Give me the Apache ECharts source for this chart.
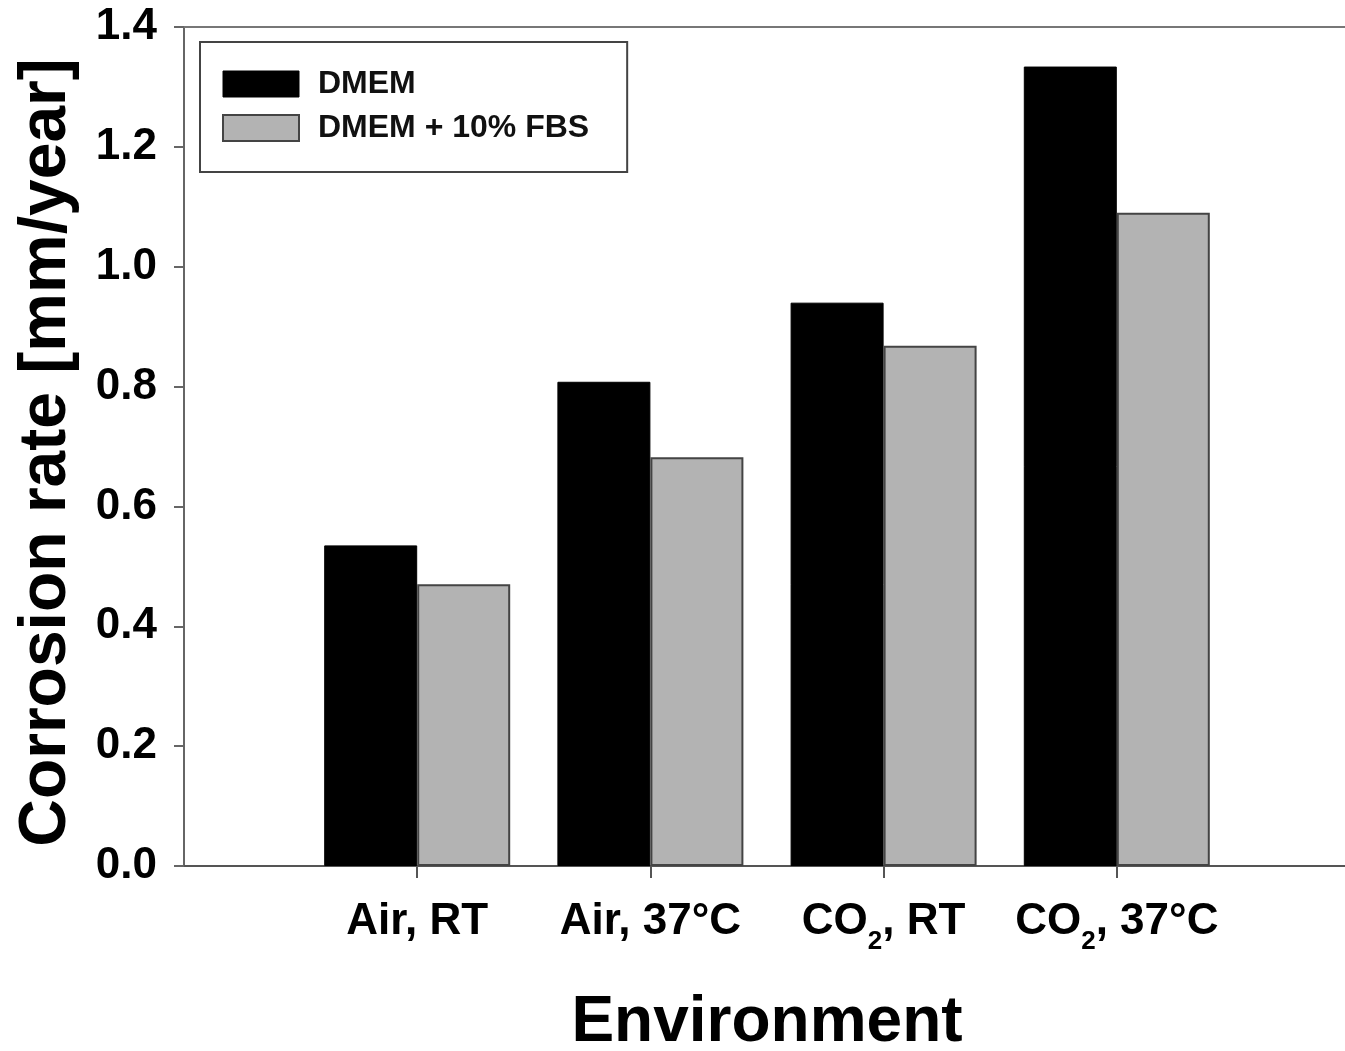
<!DOCTYPE html>
<html>
<head>
<meta charset="utf-8">
<script src="https://cdn.jsdelivr.net/npm/echarts@6/dist/echarts.min.js"></script>
<style>
html,body{margin:0;padding:0;background:#fff;overflow:hidden;}
#chart{width:1345px;height:1051px;}
</style>
</head>
<body>
<div id="chart"></div>
<script>
const categories = ['Air, RT', 'Air, 37°C', 'CO2, RT', 'CO2, 37°C'];
const dmem = [0.535, 0.808, 0.940, 1.334];
const dmemFbs = [0.470, 0.682, 0.868, 1.090];
const seriesNames = ['DMEM', 'DMEM + 10% FBS'];
const yTicks = { min: 0, max: 1.4, interval: 0.2 };

const axisData = [''].concat(categories, ['']);
const pad = arr => ['-'].concat(arr, ['-']);
const FONT = '"Liberation Sans", Arial, sans-serif';

const chart = echarts.init(document.getElementById('chart'), null, { renderer: 'canvas' });
chart.setOption({
  backgroundColor: '#fff',
  animation: false,
  textStyle: { fontFamily: FONT },
  grid: { left: 184, top: 27, bottom: 185, width: 1166, containLabel: false, outerBoundsMode: 'none' },
  legend: {
    orient: 'vertical',
    left: 200, top: 42,
    padding: [26, 38, 28, 22],
    itemWidth: 76, itemHeight: 26, itemGap: 12,
    borderColor: '#444', borderWidth: 2,
    textStyle: { fontFamily: FONT, fontWeight: 'bold', fontSize: 32, color: '#111', padding: [0, 0, 0, 14] },
    data: [
      { name: seriesNames[0], icon: 'rect', itemStyle: { color: '#000', borderColor: '#000', borderWidth: 1 } },
      { name: seriesNames[1], icon: 'rect', itemStyle: { color: '#b3b3b3', borderColor: '#444', borderWidth: 2 } }
    ]
  },
  xAxis: [{
    type: 'category',
    data: axisData,
    boundaryGap: false,
    name: 'Environment',
    nameLocation: 'middle',
    nameGap: 125,
    nameTextStyle: { fontFamily: FONT, fontWeight: 'bold', fontSize: 64, color: '#000' },
    axisLine: { show: true, lineStyle: { color: '#555', width: 2 } },
    axisTick: { show: true, length: 12, interval: (i, v) => v !== '', lineStyle: { color: '#555', width: 2 } },
    axisLabel: {
      interval: (i, v) => v !== '',
      margin: 26,
      formatter: v => v ? '{a|' + v.replace('CO2', 'CO}{s|2}{a|') + '}' : '',
      rich: {
        a: { fontFamily: FONT, fontWeight: 'bold', fontSize: 44, lineHeight: 60, color: '#000' },
        s: { fontFamily: FONT, fontWeight: 'bold', fontSize: 26, lineHeight: 10, verticalAlign: 'top', padding: [37, 0, 0, 0], color: '#000' }
      }
    },
    splitLine: { show: false }
  }, {
    type: 'category',
    data: axisData,
    boundaryGap: false,
    position: 'top',
    axisLine: { show: true, lineStyle: { color: '#777', width: 2 } },
    axisTick: { show: false },
    axisLabel: { show: false },
    splitLine: { show: false }
  }],
  yAxis: {
    type: 'value',
    min: yTicks.min, max: yTicks.max, interval: yTicks.interval,
    name: 'Corrosion rate [mm/year]',
    nameLocation: 'middle',
    nameGap: 104,
    nameTextStyle: { fontFamily: FONT, fontWeight: 'bold', fontSize: 66, color: '#000', padding: [0, 12, 0, 0] },
    axisLine: { show: true, lineStyle: { color: '#666', width: 2 } },
    axisTick: { show: true, length: 10, lineStyle: { color: '#666', width: 2 } },
    axisLabel: { margin: 27, fontFamily: FONT, fontWeight: 'bold', fontSize: 44, color: '#000', formatter: v => v.toFixed(1) },
    splitLine: { show: false }
  },
  series: [{
    name: seriesNames[0],
    type: 'bar',
    data: pad(dmem),
    barWidth: 93,
    barGap: '0%',
    itemStyle: { color: '#000', borderColor: '#000', borderWidth: 1 }
  }, {
    name: seriesNames[1],
    type: 'bar',
    data: pad(dmemFbs),
    barWidth: 93,
    barGap: '0%',
    itemStyle: { color: '#b3b3b3', borderColor: '#444', borderWidth: 2 }
  }]
});
</script>
</body>
</html>
